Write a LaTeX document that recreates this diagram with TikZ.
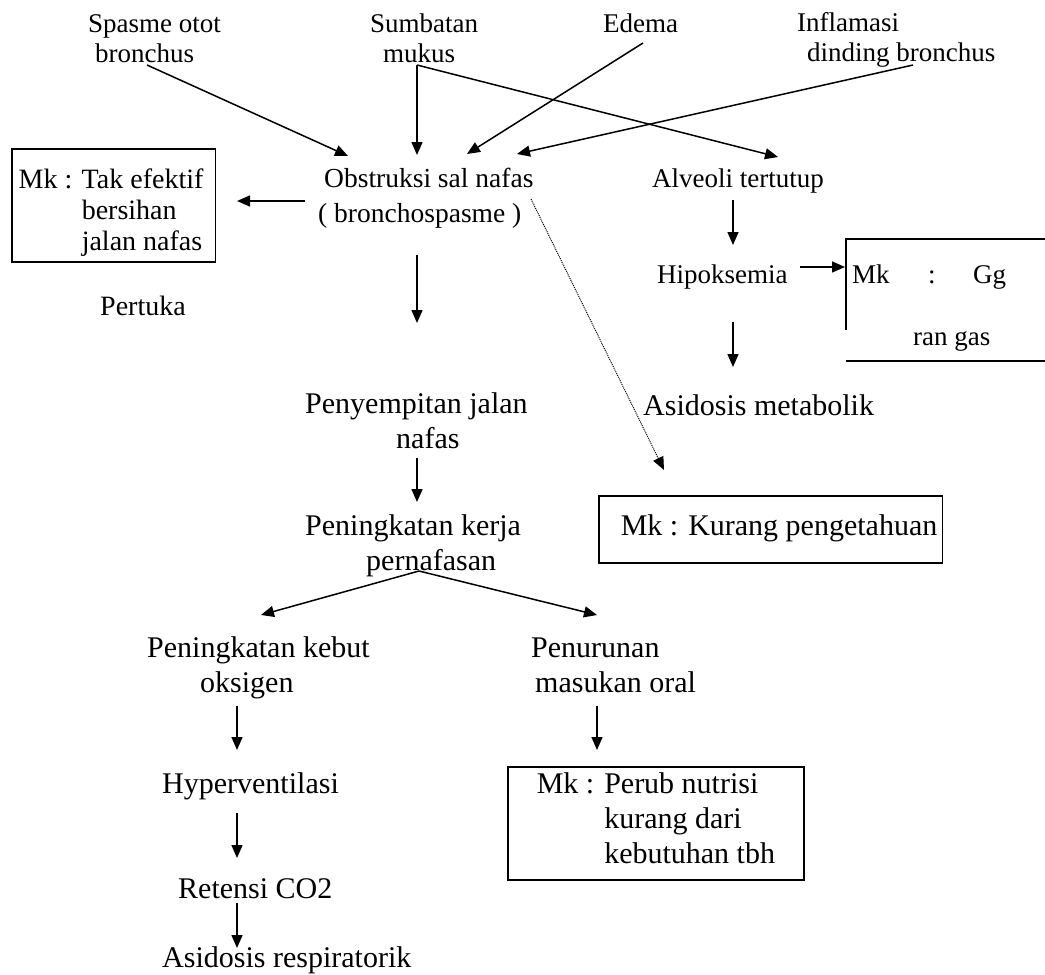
\documentclass[tikz,border=0pt]{standalone}
\usepackage{fontspec}
\setmainfont{Liberation Serif}
\usetikzlibrary{arrows.meta}
\newcommand{\tl}[1]{\begin{tabular}[t]{@{}l@{}}#1\end{tabular}}
\tikzset{
  up/.style={font=\fontsize{27pt}{30pt}\selectfont, inner sep=0pt, anchor=base west},
  lo/.style={font=\fontsize{30pt}{35pt}\selectfont, inner sep=0pt, anchor=base west},
  arr/.style={line width=1.5pt, -{Triangle[length=13pt,width=11pt]}},
  dotarr/.style={line width=1pt, densely dotted, -{Triangle[length=13pt,width=11pt]}},
  boxed/.style={draw, line width=1.5pt},
  frame/.style={line width=1.5pt}
}
\begin{document}
\begin{tikzpicture}[x=1pt,y=-1pt]
\useasboundingbox (0,0) rectangle (1045,975);
% upper labels
\node[up] (spasme) at (88,32) {\tl{Spasme otot\\\hspace{7pt}bronchus}};
\node[up] (sumbatan) at (370,32) {\tl{Sumbatan\\\hspace{13pt}mukus}};
\node[up] (edema) at (603,32) {\tl{Edema}};
\node[up] (inflamasi) at (797,31) {\tl{Inflamasi\\\hspace{10pt}dinding bronchus}};
\node[up, font=\fontsize{27.5pt}{35pt}\selectfont] (obs) at (318,187) {\tl{\hspace{6pt}Obstruksi sal nafas\\( bronchospasme )}};
\node[up] (alveoli) at (652,187) {\tl{Alveoli tertutup}};
\node[up] (hipo) at (657,283) {\tl{Hipoksemia}};
\node[up, text height=44pt, text depth=78pt] (gg) at (846,283)
  {\begin{tabular}[t]{@{\hspace{6pt}}l@{\hspace{39pt}}}Mk\hspace{38.5pt}:\hspace{37.5pt}Gg\\[32pt]\hspace{61pt}ran gas\end{tabular}};
\draw[frame] (gg.north east) -- (gg.north west) -- ([shift={(0,91)}]gg.north west);
\draw[frame] (gg.south west) -- (gg.south east);
\node[up, font=\fontsize{28pt}{31pt}\selectfont, boxed, text height=39pt, text depth=74pt] (tak) at (11,188)
  {\begin{tabular}[t]{@{\hspace{7pt}}l@{\hspace{12pt}}}Mk : Tak efektif\\\phantom{Mk : }bersihan\\\phantom{Mk : }jalan nafas\end{tabular}};
\node[up, font=\fontsize{28pt}{31pt}\selectfont] (pertuka) at (100,315) {\tl{Pertuka}};
% lower labels
\node[lo] (asidmet) at (643,415) {\tl{Asidosis metabolik}};
\node[lo] (peny) at (305,413) {\tl{Penyempitan jalan\\\hspace{91pt}nafas}};
\node[lo] (kerja) at (305,535) {\tl{Peningkatan kerja\\\hspace{61pt}pernafasan}};
\node[lo, boxed, text height=39pt, text depth=28pt] (kurang) at (598,535)
  {\begin{tabular}[t]{@{\hspace{22pt}}l@{\hspace{5pt}}}Mk : Kurang pengetahuan\end{tabular}};
\node[lo] (kebut) at (147,657) {\tl{Peningkatan kebut\\\hspace{53pt}oksigen}};
\node[lo] (turun) at (531,657) {\tl{Penurunan\\\hspace{4pt}masukan oral}};
\node[lo] (hyper) at (162,793) {\tl{Hyperventilasi}};
\node[lo] (retensi) at (178,898) {\tl{Retensi CO2}};
\node[lo] (asidres) at (162,967) {\tl{Asidosis respiratorik}};
\node[lo, boxed, text height=26pt, text depth=87pt] (perub) at (507,793)
  {\begin{tabular}[t]{@{\hspace{29pt}}l@{\hspace{29pt}}}Mk : Perub nutrisi\\\phantom{Mk : }kurang dari\\\phantom{Mk : }kebutuhan tbh\end{tabular}};
% connectors
\draw[arr] ([shift={(59,33)}]spasme.base west) -- ([shift={(30,-31)}]obs.base west);
\draw[arr] ([shift={(47,33)}]sumbatan.base west) -- ([shift={(99,-32)}]obs.base west);
\draw[arr] ([shift={(47,33)}]sumbatan.base west) -- ([shift={(126,-30)}]alveoli.base west);
\draw[arr] ([shift={(40,11)}]edema.base west) -- ([shift={(149,-33)}]obs.base west);
\draw[arr] ([shift={(116,34)}]inflamasi.base west) -- ([shift={(199,-33)}]obs.base west);
\draw[arr] ([shift={(-13,14)}]obs.base west) -- ([shift={(226,13)}]tak.base west);
\draw[arr] ([shift={(99,68)}]obs.base west) -- ([shift={(112,-90)}]peny.base west);
\draw[dotarr] ([shift={(213,12)}]obs.base west) -- ([shift={(66,-65)}]kurang.base west);
\draw[arr] ([shift={(81,13)}]alveoli.base west) -- ([shift={(76,-38)}]hipo.base west);
\draw[arr] ([shift={(143,-16)}]hipo.base west) -- ([shift={(-1,-16)}]gg.base west);
\draw[arr] ([shift={(76,39)}]hipo.base west) -- ([shift={(90,-48)}]asidmet.base west);
\draw[arr] ([shift={(112,45)}]peny.base west) -- ([shift={(112,-33)}]kerja.base west);
\draw[arr] ([shift={(114,36)}]kerja.base west) -- ([shift={(114,-42)}]kebut.base west);
\draw[arr] ([shift={(114,36)}]kerja.base west) -- ([shift={(66,-42)}]turun.base west);
\draw[arr] ([shift={(90,49)}]kebut.base west) -- ([shift={(75,-43)}]hyper.base west);
\draw[arr] ([shift={(75,20)}]hyper.base west) -- ([shift={(59,-40)}]retensi.base west);
\draw[arr] ([shift={(59,5)}]retensi.base west) -- ([shift={(75,-19)}]asidres.base west);
\draw[arr] ([shift={(66,49)}]turun.base west) -- ([shift={(90,-43)}]perub.base west);
\end{tikzpicture}
\end{document}
